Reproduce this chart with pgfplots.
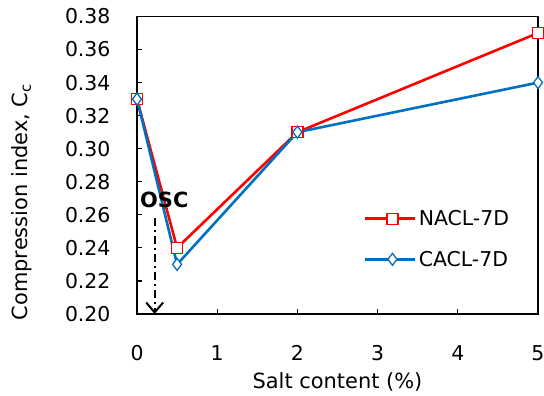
\documentclass[border=0pt]{standalone}
\usepackage{pgfplots}
\pgfplotsset{compat=1.18}
\usepackage{fontspec}
\setmainfont{DejaVu Sans}
\usetikzlibrary{arrows.meta}
\definecolor{cred}{RGB}{255,0,0}
\definecolor{cblue}{RGB}{0,112,192}
\begin{document}
\begin{tikzpicture}[x=1bp,y=1bp]
\begin{axis}[
  scale only axis,
  width=401bp, height=297.5bp,
  xmin=0, xmax=5, ymin=0.20, ymax=0.38,
  xtick={0,1,2,3,4,5},
  ytick={0.20,0.22,0.24,0.26,0.28,0.30,0.32,0.34,0.36,0.38},
  tick align=inside,
  major tick length=5bp,
  xtick pos=bottom, ytick pos=left,
  axis line style={line width=1.6bp},
  tick style={line width=1.2bp, black},
  /pgf/number format/assume math mode=true,
  yticklabel style={/pgf/number format/fixed, /pgf/number format/fixed zerofill, /pgf/number format/precision=2, anchor=east, xshift=-23bp},
  xticklabel style={anchor=center, yshift=-39bp},
  ticklabel style={font=\fontsize{20.5}{24}\selectfont},
  label style={font=\fontsize{21}{25}\selectfont},
  xlabel={Salt content (\%)},
  ylabel={Compression index, C\textsubscript{c}},
  xlabel style={at={(axis description cs:0.5,-0.2286)}, anchor=center},
  ylabel style={at={(axis description cs:-0.287,0.376)}, anchor=center, rotate=0},
  legend style={draw=none, fill=none, at={(0.566,0.252)}, anchor=west,
    font=\fontsize{20.5}{24}\selectfont, row sep=20bp, inner sep=0pt,
    /tikz/every even column/.append style={column sep=4bp}},
  legend cell align=left,
  legend image code/.code={\draw[mark repeat=2,mark phase=2] plot coordinates {(0bp,0bp)(27bp,0bp)(50bp,0bp)};},
  clip=false,
]
\addplot[color=cred, line width=2.6bp, mark=square*, mark size=5.5bp, mark options={fill=white, draw=cred, line width=1.3bp}]
  coordinates {(0,0.33) (0.5,0.24) (2,0.31) (5,0.37)};
\addlegendentry{NACL-7D}
\addplot[color=cblue, line width=2.6bp, mark=diamond*, mark size=6bp, mark options={fill=white, draw=cblue, line width=1.3bp}]
  coordinates {(0,0.33) (0.5,0.23) (2,0.31) (5,0.34)};
\addlegendentry{CACL-7D}
\draw[dash pattern=on 8bp off 4bp on 2bp off 4bp, line width=2bp, -{Straight Barb[length=10bp,width=17bp,line width=2bp]}] (axis cs:0.22,0.258) -- (axis cs:0.22,0.2);
\node[font=\fontsize{21}{25}\selectfont\bfseries] at (axis cs:0.34,0.269) {OSC};
\end{axis}
\pgfresetboundingbox
\path[use as bounding box] (current axis.south west) ++(-137bp,-82bp) rectangle ++(544bp,396bp);
\end{tikzpicture}
\end{document}
